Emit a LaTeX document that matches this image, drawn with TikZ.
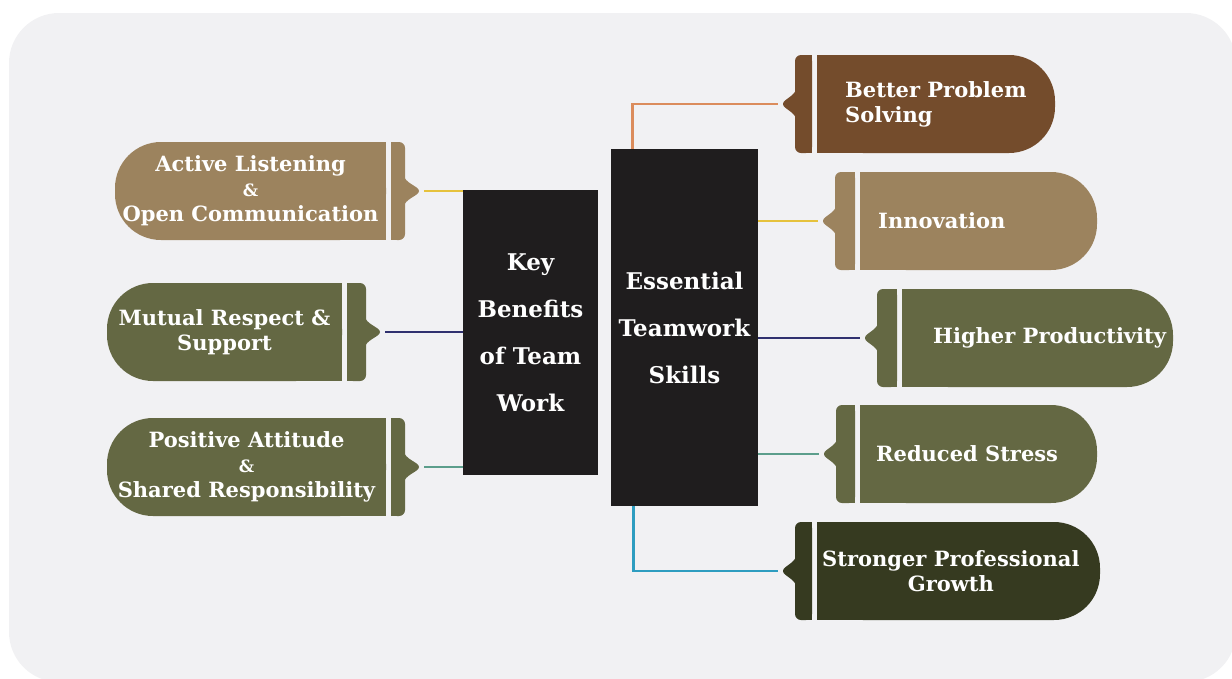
\documentclass[tikz,border=0pt]{standalone}
\usepackage{fontspec}
\setmainfont{DejaVu Serif}

\definecolor{pagegray}{HTML}{F1F1F3}
\definecolor{tancard}{HTML}{9C835E}
\definecolor{olivecard}{HTML}{646843}
\definecolor{browncard}{HTML}{744C2C}
\definecolor{darkcard}{HTML}{363A20}
\definecolor{boxblack}{HTML}{1F1D1E}
\definecolor{lineyellow}{HTML}{E6C23C}
\definecolor{linenavy}{HTML}{30316F}
\definecolor{lineteal}{HTML}{5C9E8B}
\definecolor{lineorange}{HTML}{DB8C5C}
\definecolor{lineblue}{HTML}{2E9DC0}

\newcommand{\smallamp}{{\fontsize{17}{25}\selectfont\&}}

% card with the round end on the left: name, colour, left, body right, tab right, middle, text
\newcommand{\leftcard}[7]{%
  \fill[#2, rounded corners=46pt] (#3,#6-49) rectangle (#4,#6+49);
  \fill[#2] (#3+50,#6-49) rectangle (#4,#6+49);
  \fill[#2, rounded corners=6pt] (#4+5,#6-49) rectangle (#5,#6+49);
  \fill[#2] (#4+5,#6-49) rectangle (#5-7,#6+49);
  \fill[#2] (#5-2,#6-17) .. controls (#5,#6-7) and (#5+14,#6-5) .. (#5+14,#6)
    .. controls (#5+14,#6+5) and (#5,#6+7) .. (#5-2,#6+17) -- cycle;
  \node[cardtext] (#1) at ({(#3+#4)/2},#6) {#7};
  \coordinate (#1-tip) at (#5+19,#6);
}

% card with the round end on the right: [align] name, colour, point, tab right, body right, middle, text x, text
\newcommand{\rightcard}[9][center]{%
  \fill[#3] (#4+14,#7-17) .. controls (#4+12,#7-7) and (#4,#7-5) .. (#4,#7)
    .. controls (#4,#7+5) and (#4+12,#7+7) .. (#4+14,#7+17) -- cycle;
  \fill[#3, rounded corners=6pt] (#4+12,#7-49) rectangle (#5,#7+49);
  \fill[#3] (#4+19,#7-49) rectangle (#5,#7+49);
  \fill[#3, rounded corners=46pt] (#5+5,#7-49) rectangle (#6,#7+49);
  \fill[#3] (#5+5,#7-49) rectangle (#6-50,#7+49);
  \node[cardtext, anchor=west, align=#1] (#2) at (#8,#7) {#9};
  \coordinate (#2-tip) at (#4-5,#7);
}

\begin{document}
\begin{tikzpicture}[x=1pt, y=-1pt,
    cardtext/.style={text=white, inner sep=0pt, align=center, font=\bfseries\fontsize{21}{25}\selectfont},
    darkbox/.style={fill=boxblack, text=white, inner sep=0pt, align=center, font=\bfseries\fontsize{23}{47}\selectfont},
    link/.style={line width=2.8pt}
  ]

  % page
  \useasboundingbox (0,0) rectangle (1232,678);
  \fill[pagegray, rounded corners=50pt] (9,13) rectangle (1236,682);

  % middle boxes
  \node[darkbox, minimum width=135pt, minimum height=285pt] (key) at (530.5,332.5) {Key\\Benefits\\of Team\\Work};
  \node[darkbox, minimum width=147pt, minimum height=357pt] (skills) at (684.5,327.5) {Essential\\Teamwork\\Skills};

  % left cards
  \leftcard{listen}{tancard}{115}{386}{405}{191}{Active Listening\\\smallamp\\Open Communication}
  \leftcard{respect}{olivecard}{107}{342}{366}{332}{Mutual Respect \&\\Support}
  \leftcard{attitude}{olivecard}{107}{386}{405}{467}{Positive Attitude\\\smallamp\\Shared Responsibility}

  % right cards
  \rightcard[left]{problem}{browncard}{783}{812}{1055}{104}{845}{Better Problem\\Solving}
  \rightcard{innovation}{tancard}{823}{855}{1097}{221}{878}{Innovation}
  \rightcard{productivity}{olivecard}{865}{897}{1173}{338}{933}{Higher Productivity}
  \rightcard{stress}{olivecard}{824}{855}{1097}{454}{876}{Reduced Stress}
  \rightcard{growth}{darkcard}{783}{812}{1100}{571}{822}{Stronger Professional\\Growth}

  % connectors
  \draw[link, lineyellow] (listen-tip) -- (listen-tip -| key.west);
  \draw[link, linenavy] (respect-tip) -- (respect-tip -| key.west);
  \draw[link, lineteal] (attitude-tip) -- (attitude-tip -| key.west);
  \draw[link, lineorange] ([xshift=22pt]skills.north west) |- (problem-tip);
  \draw[link, lineyellow] (skills.east |- innovation-tip) -- (innovation-tip);
  \draw[link, linenavy] (skills.east |- productivity-tip) -- (productivity-tip);
  \draw[link, lineteal] (skills.east |- stress-tip) -- (stress-tip);
  \draw[link, lineblue] ([xshift=23pt]skills.south west) |- (growth-tip);

\end{tikzpicture}
\end{document}
